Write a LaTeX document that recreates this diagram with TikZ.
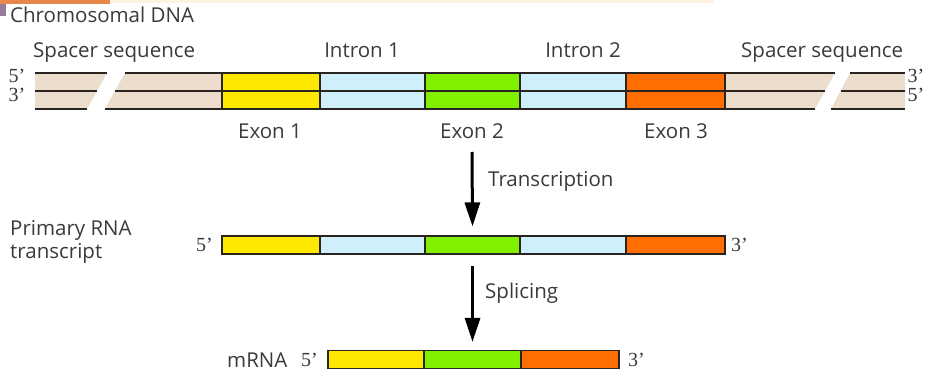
\documentclass[tikz,border=0pt]{standalone}
\usepackage{fontspec}
\setmainfont{Open Sans}
\newfontfamily\primefont{Liberation Serif}
\usetikzlibrary{arrows.meta}

\definecolor{exyellow}{HTML}{FFE800}
\definecolor{inblue}{HTML}{CFEFFA}
\definecolor{exgreen}{HTML}{80F000}
\definecolor{exorange}{HTML}{FF6E00}
\definecolor{spacer}{HTML}{EBDCCC}
\definecolor{txt}{HTML}{3A3A3A}
\definecolor{strand}{HTML}{2A2420}
\definecolor{bandorange}{HTML}{E8874A}
\definecolor{bandpeach}{HTML}{FFF2E2}
\definecolor{bandpurple}{HTML}{9A7A9A}

\begin{document}
\begin{tikzpicture}[x=1pt,y=-1pt,
  lbl/.style={font=\fontsize{20.5}{24}\selectfont, text=txt, inner sep=0pt},
  endlbl/.style={font=\primefont\fontsize{20}{23}\selectfont, text=txt, inner sep=0pt},
  seg/.style={draw=strand, line width=1.1pt, inner sep=0pt, minimum height=18pt},
  strandline/.style={draw=strand, line width=1.8pt},
  sepline/.style={draw=strand, line width=1.2pt},
  bigarrow/.style={draw=black, line width=3pt, -{Triangle[length=24pt,width=15pt]}}
]
\useasboundingbox (0,0) rectangle (928,377);

% thin coloured band along the top edge
\fill[bandpeach] (110,0) rectangle (714,3);
\fill[bandorange] (0,0) rectangle (110,4);
\fill[bandpurple] (0,4) rectangle (6,16);

% ---------- chromosomal DNA ----------
\node[lbl, anchor=base west] (title) at (10,23) {Chromosomal DNA};

% spacer fills with slanted breaks
\fill[spacer] (35,73) -- (107,73) -- (87,109) -- (35,109) -- cycle;
\fill[spacer] (125,73) -- (222,73) -- (222,109) -- (105,109) -- cycle;
\fill[spacer] (725,73) -- (835,73) -- (815,109) -- (725,109) -- cycle;
\fill[spacer] (850,73) -- (905,73) -- (905,109) -- (831,109) -- cycle;

% exon / intron blocks
\fill[exyellow] (222,73) rectangle (320,109);
\fill[inblue]   (320,73) rectangle (425,109);
\fill[exgreen]  (425,73) rectangle (520,109);
\fill[inblue]   (520,73) rectangle (626,109);
\fill[exorange] (626,73) rectangle (725,109);

% strand lines
\draw[strandline] (35,73) -- (107,73);
\draw[strandline] (35,91) -- (97,91);
\draw[strandline] (35,109) -- (87,109);
\draw[strandline] (125,73) -- (835,73);
\draw[strandline] (115,91) -- (825,91);
\draw[strandline] (105,109) -- (815,109);
\draw[strandline] (850,73) -- (905,73);
\draw[strandline] (841,91) -- (905,91);
\draw[strandline] (831,109) -- (905,109);

% block boundaries
\foreach \bx in {222,320,425,520,626,725}
  \draw[sepline] (\bx,73) -- (\bx,109);

% strand ends
\node[endlbl] (l5) at (17,76) {5’};
\node[endlbl] (l3) at (17,95) {3’};
\node[endlbl] (r3) at (916,76) {3’};
\node[endlbl] (r5) at (916,95) {5’};

% region labels
\node[lbl, anchor=base west] (spl) at (33,58) {Spacer sequence};
\node[lbl, anchor=base] (in1) at (362,58) {Intron 1};
\node[lbl, anchor=base] (in2) at (583,58) {Intron 2};
\node[lbl, anchor=base west] (spr) at (741,58) {Spacer sequence};
\node[lbl, anchor=base] (ex1) at (270,138) {Exon 1};
\node[lbl, anchor=base] (ex2) at (472,138) {Exon 2};
\node[lbl, anchor=base] (ex3) at (676,138) {Exon 3};

% ---------- primary RNA transcript ----------
\node[lbl, anchor=base west] (prim) at (10,235) {Primary RNA};
\node[lbl, anchor=base west] (primb) at (10,258) {transcript};
\node[seg, fill=exyellow, minimum width=98pt]  (r1) at (271,245) {};
\node[seg, fill=inblue,   minimum width=105pt] (r2) at (372.5,245) {};
\node[seg, fill=exgreen,  minimum width=95pt]  (r3g) at (472.5,245) {};
\node[seg, fill=inblue,   minimum width=106pt] (r4) at (573,245) {};
\node[seg, fill=exorange, minimum width=99pt]  (r5g) at (675.5,245) {};
\node[endlbl, anchor=base east] (rna5) at (213,251) {5’};
\node[endlbl, anchor=base west] (rna3) at (731,251) {3’};

% ---------- mRNA ----------
\node[seg, fill=exyellow, minimum width=96pt] (m1) at (376,359.5) {};
\node[seg, fill=exgreen,  minimum width=97pt] (m2) at (472.5,359.5) {};
\node[seg, fill=exorange, minimum width=98pt] (m3) at (570,359.5) {};
\node[lbl, anchor=base west] (mrna) at (227,367) {mRNA};
\node[endlbl, anchor=base east] (m5) at (318,366) {5’};
\node[endlbl, anchor=base west] (m3p) at (628,366) {3’};

% ---------- processing arrows ----------
\draw[bigarrow] ([yshift=-14pt]ex2.base) -- ([yshift=9pt]r3g.north);
\node[lbl, anchor=base west] (transc) at (488,186) {Transcription};
\draw[bigarrow] ([yshift=-11pt]r3g.south) -- ([yshift=8pt]m2.north);
\node[lbl, anchor=base west] (splice) at (485,298) {Splicing};
\end{tikzpicture}
\end{document}
